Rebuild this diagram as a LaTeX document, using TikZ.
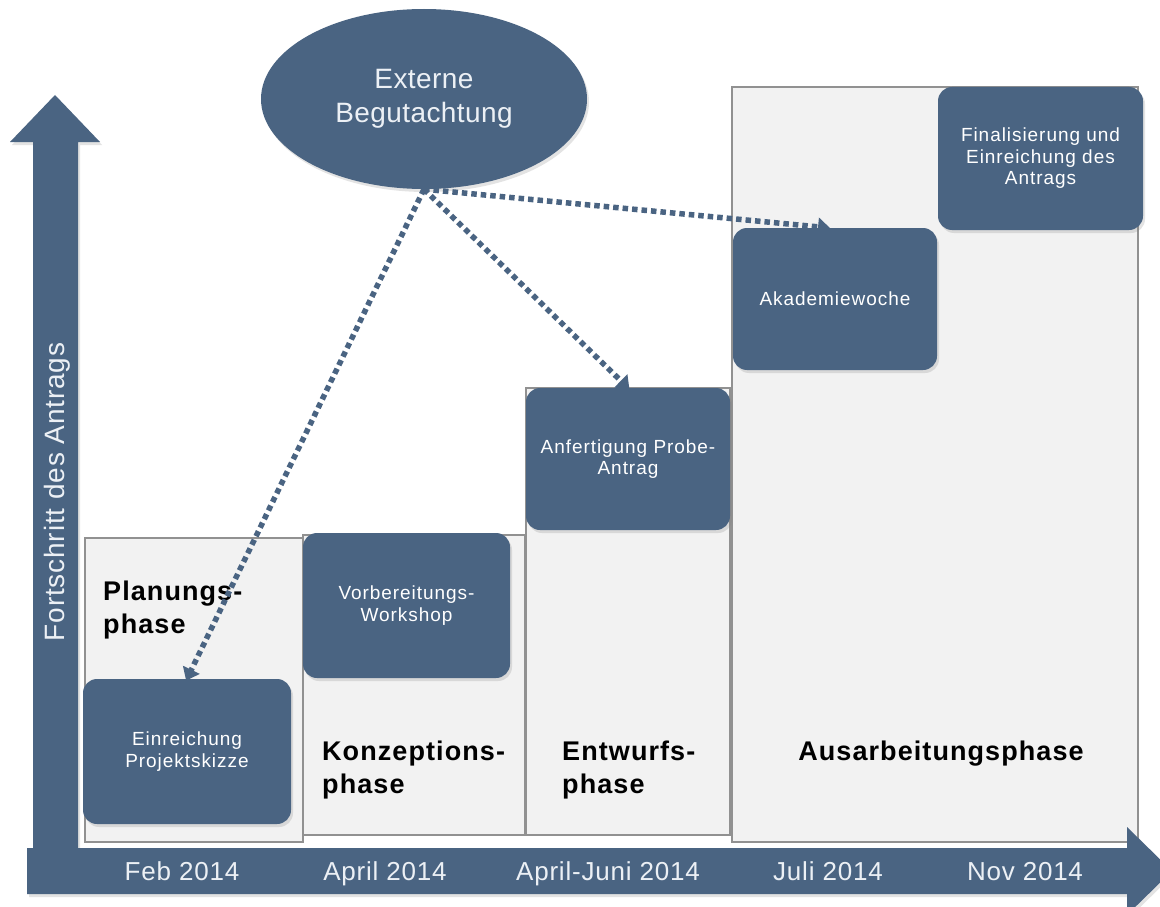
\documentclass[tikz,border=0pt]{standalone}
\usepackage{fontspec}
\setmainfont{Liberation Sans}
\newfontfamily\phasefont{Liberation Sans}[LetterSpace=4]
\newfontfamily\boxfont{Liberation Sans}[LetterSpace=5]
\newfontfamily\axisfont{Liberation Sans}[LetterSpace=3]
\newfontfamily\ellfont{Liberation Sans}[LetterSpace=1.5]
\usetikzlibrary{arrows.meta,shapes.geometric,shadows}
\definecolor{boxblue}{RGB}{74,100,130}
\definecolor{phasefill}{RGB}{242,242,242}
\definecolor{phaseline}{RGB}{145,145,145}
\definecolor{axistext}{RGB}{236,240,245}
\begin{document}
\begin{tikzpicture}[x=1pt,y=-1pt,
  phasebox/.style={draw=phaseline, fill=phasefill, line width=1.5pt},
  phaselabel/.style={text=black, align=left, inner sep=0pt, font=\fontsize{27}{33}\phasefont\bfseries},
  bluebox/.style={fill=boxblue, rounded corners=14pt, text=white, align=center, inner sep=0pt,
    font=\fontsize{19}{21.5}\boxfont,
    drop shadow={opacity=0.22, shadow xshift=2pt, shadow yshift=-3pt}},
  axisarrow/.style={fill=boxblue, drop shadow={opacity=0.22, shadow xshift=2pt, shadow yshift=-3pt}},
  axislabel/.style={text=axistext, inner sep=0pt, font=\fontsize{26}{28}\axisfont},
  review/.style={draw=boxblue, line width=5.5pt, dash pattern=on 5.5pt off 4pt,
    -{Triangle[length=12pt,width=18pt]}, shorten >=-2pt}
]
\useasboundingbox (0,0) rectangle (1160,907);
\fill[white] (0,0) rectangle (1160,907);

% phase boxes
\draw[phasebox] (732,87) rectangle (1138,842);
\draw[phasebox] (526,388) rectangle (730,835);
\draw[phasebox] (303,535) rectangle (525,835);
\draw[phasebox] (85,538) rectangle (303,842);

% phase labels
\node[phaselabel, anchor=north west] (lplan) at (103,580.5) {Planungs-\\phase};
\node[phaselabel, anchor=north west] (lkonz) at (322,740.5) {Konzeptions-\\phase};
\node[phaselabel, anchor=north west] (lentw) at (562,740.5) {Entwurfs-\\phase};
\node[phaselabel, anchor=base] (lausa) at (941,760) {Ausarbeitungsphase};

% activity boxes
\node[bluebox, minimum width=208pt, minimum height=145pt] (einr) at (187,751.5) {Einreichung\\Projektskizze};
\node[bluebox, minimum width=207pt, minimum height=145pt] (vorb) at (406.5,605.5) {Vorbereitungs-\\Workshop};
\node[bluebox, minimum width=204pt, minimum height=142pt] (anf) at (628,459) {Anfertigung Probe-\\Antrag};
\node[bluebox, minimum width=204pt, minimum height=142pt] (akad) at (835,299) {Akademiewoche};
\node[bluebox, minimum width=205pt, minimum height=143pt] (fin) at (1040.5,158.5) {Finalisierung und\\Einreichung des\\Antrags};

% external review
\node[ellipse, fill=boxblue, minimum width=326pt, minimum height=180pt, inner sep=0pt,
  text=axistext, align=center, font=\fontsize{28}{34}\ellfont,
  drop shadow={opacity=0.22, shadow xshift=2pt, shadow yshift=-3pt}] (ext) at (424,99) {Externe\\Begutachtung};

% dotted arrows
\draw[review] (ext.south) -- (einr.north);
\draw[review] (ext.south) -- (anf.north);
\draw[review] (ext.south) -- ([xshift=-7pt]akad.north);

% axes
\path[axisarrow] (33,848) -- (33,142) -- (10,142) -- (55,95) -- (100,142) -- (78,142) -- (78,848) -- cycle;
\path[axisarrow] (27,848) -- (1127,848) -- (1127,827) -- (1172,871) -- (1127,915) -- (1127,894) -- (27,894) -- cycle;
\node[axislabel, rotate=90, font=\fontsize{28}{30}\axisfont] (yax) at (57,492) {Fortschritt des Antrags};

\node[axislabel, anchor=base] (t1) at (182,880) {Feb 2014};
\node[axislabel, anchor=base] (t2) at (385,880) {April 2014};
\node[axislabel, anchor=base] (t3) at (608,880) {April-Juni 2014};
\node[axislabel, anchor=base] (t4) at (828,880) {Juli 2014};
\node[axislabel, anchor=base] (t5) at (1025,880) {Nov 2014};
\end{tikzpicture}
\end{document}
